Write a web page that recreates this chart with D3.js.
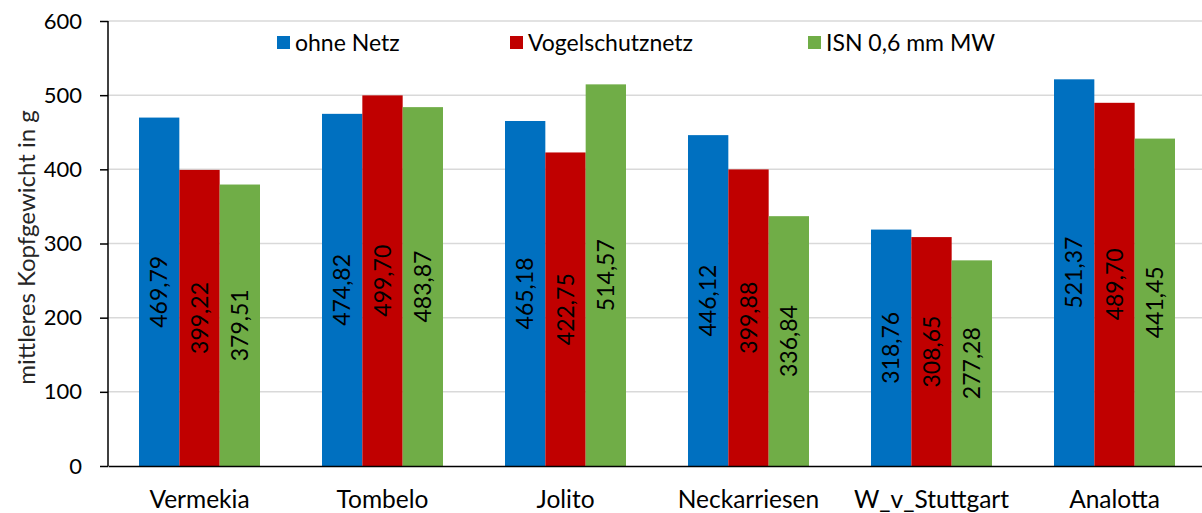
<!DOCTYPE html>
<html>
<head>
<meta charset="utf-8">
<script src="https://cdnjs.cloudflare.com/ajax/libs/d3/7.8.5/d3.min.js"></script>
<style>
    body { margin: 0; background: #fff; }
    text { font-family: Lato, "Liberation Sans", sans-serif; fill: #000; }
</style>
</head>
<body>
<div id="chart-area"></div>
<script>
// chart data
let categories = ["Vermekia", "Tombelo", "Jolito", "Neckarriesen", "W_v_Stuttgart", "Analotta"];
let seriesNames = ["ohne Netz", "Vogelschutznetz", "ISN 0,6 mm MW"];
let ohneNetz = [469.79, 474.82, 465.18, 446.12, 318.76, 521.37];
let vogelschutznetz = [399.22, 499.70, 422.75, 399.88, 308.65, 489.70];
let isn = [379.51, 483.87, 514.57, 336.84, 277.28, 441.45];
let yTicks = [0, 100, 200, 300, 400, 500, 600];
let colors = ["#0070C0", "#C00000", "#70AD47"];

let seriesValues = [ohneNetz, vogelschutznetz, isn];

let totalWidth = 1202,
    totalHeight = 513;
let margin = {top: 21, right: -4, left: 108, bottom: 47};
let width = totalWidth - margin.left - margin.right,
    height = totalHeight - margin.top - margin.bottom;

let svg = d3.select("#chart-area")
    .append("svg")
    .attr("width", totalWidth)
    .attr("height", totalHeight);

let g = svg.append("g")
    .attr("transform", "translate(" + margin.left + "," + margin.top + ")");

// scales
let x = d3.scaleBand()
    .domain(categories)
    .range([0, width])
    .paddingInner(0)
    .paddingOuter(0);

let xInner = d3.scaleBand()
    .domain(seriesNames)
    .range([31, x.bandwidth() - 31]);

let y = d3.scaleLinear()
    .domain([0, 600])
    .range([height, 0]);

// gridlines
g.selectAll(".grid")
    .data(yTicks.filter(function (d) { return d > 0; }))
    .enter()
    .append("line")
    .attr("class", "grid")
    .attr("x1", 0)
    .attr("x2", width)
    .attr("y1", function (d) { return y(d); })
    .attr("y2", function (d) { return y(d); })
    .attr("stroke", "#d9d9d9")
    .attr("stroke-width", 1.5);

// bars
let groups = g.selectAll(".cat")
    .data(categories)
    .enter()
    .append("g")
    .attr("class", "cat")
    .attr("transform", function (d) { return "translate(" + x(d) + ",0)"; });

groups.each(function (cat, ci) {
    let grp = d3.select(this);
    let rows = seriesNames.map(function (s, si) {
        return {series: s, value: seriesValues[si][ci], color: colors[si]};
    });

    grp.selectAll("rect")
        .data(rows)
        .enter()
        .append("rect")
        .attr("x", function (d) { return xInner(d.series); })
        .attr("y", function (d) { return y(d.value); })
        .attr("width", xInner.bandwidth())
        .attr("height", function (d) { return height - y(d.value); })
        .attr("fill", function (d) { return d.color; });

    // value labels, rotated, centred in the bar
    grp.selectAll(".val")
        .data(rows)
        .enter()
        .append("text")
        .attr("class", "val")
        .attr("transform", function (d) {
            let cx = xInner(d.series) + xInner.bandwidth() / 2;
            let cy = (y(d.value) + height) / 2;
            return "translate(" + cx + "," + cy + ") rotate(-90)";
        })
        .attr("text-anchor", "middle")
        .attr("dy", "0.36em")
        .style("font-size", "23px")
        .text(function (d) { return d.value.toFixed(2).replace(".", ","); });
});

// axes
let yAxis = d3.axisLeft(y)
    .tickValues(yTicks)
    .tickSize(8)
    .tickPadding(18);

let yG = g.append("g")
    .attr("class", "y-axis")
    .call(yAxis);
yG.select(".domain").attr("stroke", "#000").attr("stroke-width", 1.5)
    .attr("d", "M0," + height + "V0");
yG.selectAll(".tick line").attr("stroke", "#000").attr("stroke-width", 1.5);
yG.selectAll(".tick text").style("font-size", "22px").attr("font-family", null);

let xAxis = d3.axisBottom(x)
    .tickSize(0);

let xG = g.append("g")
    .attr("class", "x-axis")
    .attr("transform", "translate(0," + height + ")")
    .call(xAxis);
xG.select(".domain").attr("stroke", "#000").attr("stroke-width", 1.5);
xG.selectAll(".tick text")
    .attr("y", 42)
    .attr("dy", 0)
    .style("font-size", "24.5px")
    .attr("font-family", null);

// y axis title
svg.append("text")
    .attr("transform", "translate(26," + (margin.top + height / 2 + 4) + ") rotate(-90)")
    .attr("text-anchor", "middle")
    .attr("dy", "0.36em")
    .style("font-size", "24px")
    .style("fill", "#262626")
    .text("mittleres Kopfgewicht in g");

// legend
let legendX = [277, 510, 808];
let legend = svg.selectAll(".legend")
    .data(seriesNames)
    .enter()
    .append("g")
    .attr("class", "legend")
    .attr("transform", function (d, i) { return "translate(" + legendX[i] + ",36)"; });

legend.append("rect")
    .attr("width", 13)
    .attr("height", 13)
    .attr("fill", function (d, i) { return colors[i]; });

legend.append("text")
    .attr("x", 18)
    .attr("y", 7)
    .attr("dy", "0.36em")
    .style("font-size", "23px")
    .text(function (d) { return d; });
</script>
</body>
</html>
